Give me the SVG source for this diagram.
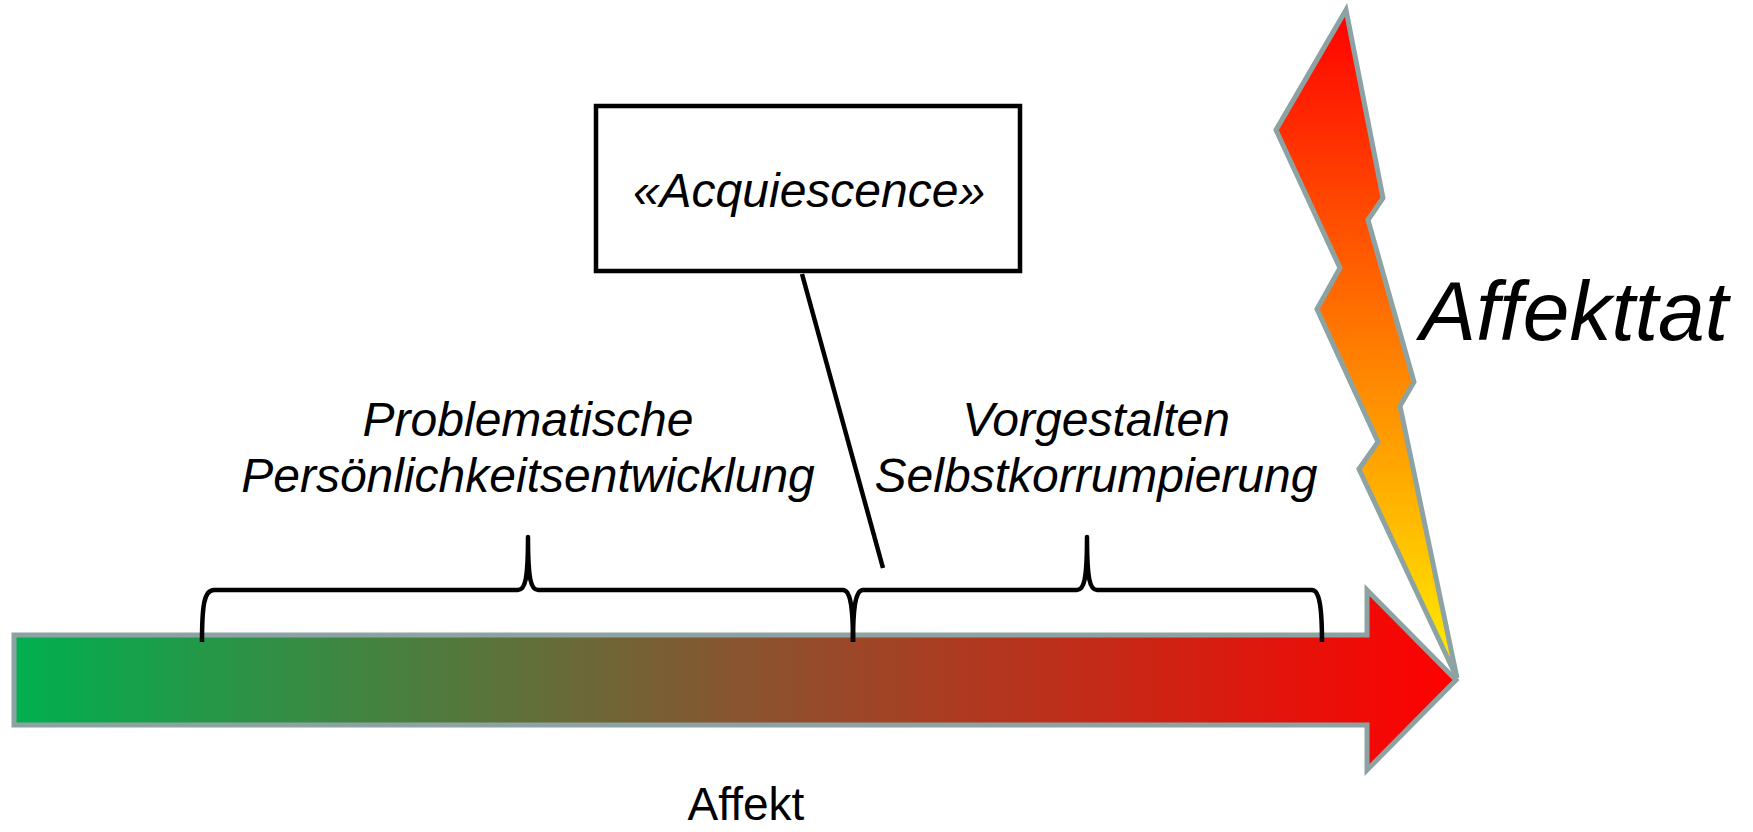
<svg xmlns="http://www.w3.org/2000/svg" width="1753" height="832" viewBox="0 0 1753 832">
<defs>
<linearGradient id="arrowGrad" x1="14" y1="0" x2="1456" y2="0" gradientUnits="userSpaceOnUse">
<stop offset="0" stop-color="#00B050"/>
<stop offset="0.5" stop-color="#885530"/>
<stop offset="1" stop-color="#FF0000"/>
</linearGradient>
<linearGradient id="boltGrad" x1="0" y1="10" x2="0" y2="680" gradientUnits="userSpaceOnUse">
<stop offset="0" stop-color="#FF0000"/>
<stop offset="0.55" stop-color="#FF8800"/>
<stop offset="1" stop-color="#FFF200"/>
</linearGradient>
<style>
.shape{stroke:#8DA3A3;stroke-width:5;stroke-linejoin:miter}
.line{fill:none;stroke:#000;stroke-width:4.5;stroke-linecap:butt;stroke-linejoin:round}
.lbl{font-family:"Liberation Sans",Arial,sans-serif;font-style:italic;font-size:48px;fill:#000;text-anchor:middle}
</style>
</defs>
<rect width="1753" height="832" fill="#fff"/>
<g id="arrow">
<path class="shape" fill="url(#arrowGrad)" d="M14,635 L1367,635 L1367,590 L1456,680 L1367,770 L1367,725 L14,725 Z"/>
<text x="746" y="820" font-family="Liberation Sans, Arial, sans-serif" font-size="46" text-anchor="middle" fill="#000">Affekt</text>
</g>
<g id="bolt">
<path class="shape" fill="url(#boltGrad)" d="M1346,10 L1383,198 L1368,220 L1414,382 L1400,406 L1457,678 L1359,469 L1378,442 L1317,309 L1340,268 L1276,130 Z"/>
<text x="1420" y="340" font-family="Liberation Sans, Arial, sans-serif" font-style="italic" font-size="84" fill="#000">Affekttat</text>
</g>
<g id="acquiescence">
<rect x="596" y="106" width="424" height="165" fill="#fff" stroke="#000" stroke-width="4.5"/>
<text class="lbl" x="809" y="207">«Acquiescence»</text>
</g>
<g id="phase1">
<text class="lbl" x="528" y="436">Problematische</text>
<text class="lbl" x="528" y="492">Persönlichkeitsentwicklung</text>
</g>
<g id="phase2">
<text class="lbl" x="1096" y="436">Vorgestalten</text>
<text class="lbl" x="1096" y="492">Selbstkorrumpierung</text>
</g>
<g id="connectors">
<path class="line" d="M202,642 C202,606 204,590 214,590 L518,590 C525,590 528,580 528,537 C528,580 531,590 538,590 L843,590 C850,590 853,606 853,642"/>
<path class="line" d="M853,642 C853,606 856,590 863,590 L1077,590 C1084,590 1087,580 1087,537 C1087,580 1090,590 1097,590 L1312,590 C1319,590 1322,606 1322,642"/>
<line class="line" x1="802" y1="274" x2="883" y2="568"/>
</g>
</svg>
